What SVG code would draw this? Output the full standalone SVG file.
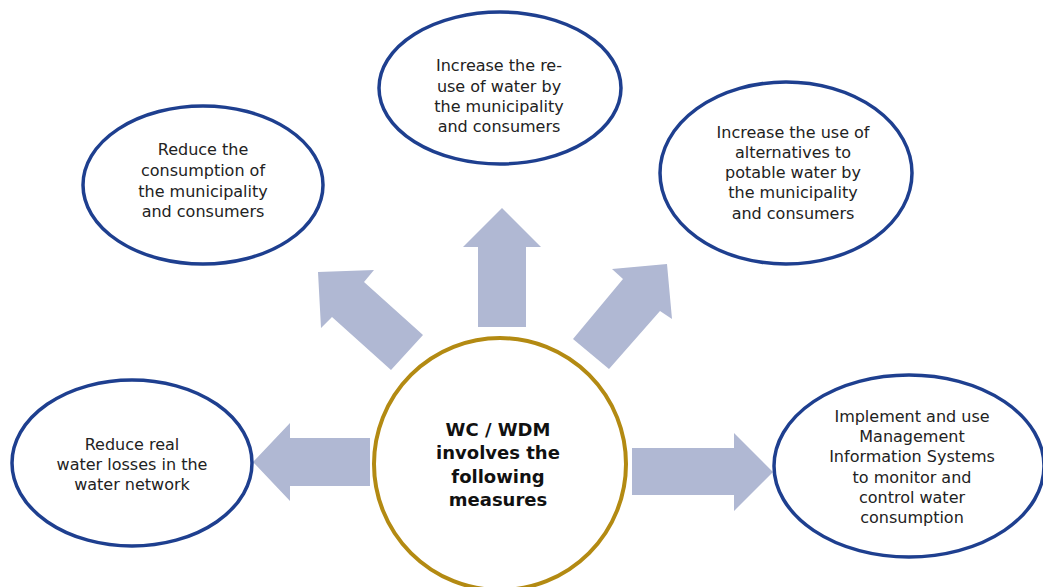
<svg xmlns="http://www.w3.org/2000/svg" width="1043" height="587" viewBox="0 0 1043 587">
<style>
.node{fill:#fff;stroke:#1E3F8F;stroke-width:3.5}
.center{fill:#fff;stroke:#B38A12;stroke-width:4}
.arrow{fill:#B0B8D3}
.t{font-family:"DejaVu Sans","Liberation Sans",sans-serif;font-size:16px;fill:#222;text-anchor:middle}
.tc{font-family:"DejaVu Sans","Liberation Sans",sans-serif;font-size:18px;font-weight:bold;fill:#111;text-anchor:middle}
</style>
<rect width="1043" height="587" fill="#fff"/>
<g id="connectors">
<polygon class="arrow" points="370,438 290,438 290,423 253,462 290,501 290,486 370,486"/>
<polygon class="arrow" points="632,448 734,448 734,433 773,472 734,511 734,495 632,495"/>
<polygon class="arrow" points="478,327 478,247 463,247 502,208 541,247 526,247 526,327"/>
<polygon class="arrow" points="318,272 374,270 364,282 423,335 391,370 332,317 321,328"/>
<polygon class="arrow" points="667,264 672,319 660,311 609,369 573,339 623,279 612,269"/>
</g>
<g id="node-center">
<circle class="center" cx="500" cy="464" r="126"/>
<text class="tc"><tspan x="498" y="436">WC / WDM</tspan><tspan x="498" y="459">involves the</tspan><tspan x="498" y="483">following</tspan><tspan x="498" y="506">measures</tspan></text>
</g>
<g id="node-reduce-consumption">
<ellipse class="node" cx="203" cy="185" rx="120" ry="79"/>
<text class="t"><tspan x="203" y="155">Reduce the</tspan><tspan x="203" y="176">consumption of</tspan><tspan x="203" y="197">the municipality</tspan><tspan x="203" y="217">and consumers</tspan></text>
</g>
<g id="node-reuse">
<ellipse class="node" cx="500" cy="88" rx="121" ry="76"/>
<text class="t"><tspan x="499" y="71">Increase the re-</tspan><tspan x="499" y="92">use of water by</tspan><tspan x="499" y="112">the municipality</tspan><tspan x="499" y="132">and consumers</tspan></text>
</g>
<g id="node-alternatives">
<ellipse class="node" cx="786" cy="173" rx="126" ry="91"/>
<text class="t"><tspan x="793" y="138">Increase the use of</tspan><tspan x="793" y="158">alternatives to</tspan><tspan x="793" y="178">potable water by</tspan><tspan x="793" y="198">the municipality</tspan><tspan x="793" y="219">and consumers</tspan></text>
</g>
<g id="node-water-losses">
<ellipse class="node" cx="132" cy="463" rx="120" ry="83"/>
<text class="t"><tspan x="132" y="450">Reduce real</tspan><tspan x="132" y="470">water losses in the</tspan><tspan x="132" y="490">water network</tspan></text>
</g>
<g id="node-mis">
<ellipse class="node" cx="909" cy="466" rx="135" ry="91"/>
<text class="t"><tspan x="912" y="422">Implement and use</tspan><tspan x="912" y="442">Management</tspan><tspan x="912" y="462">Information Systems</tspan><tspan x="912" y="483">to monitor and</tspan><tspan x="912" y="503">control water</tspan><tspan x="912" y="523">consumption</tspan></text>
</g>
</svg>
